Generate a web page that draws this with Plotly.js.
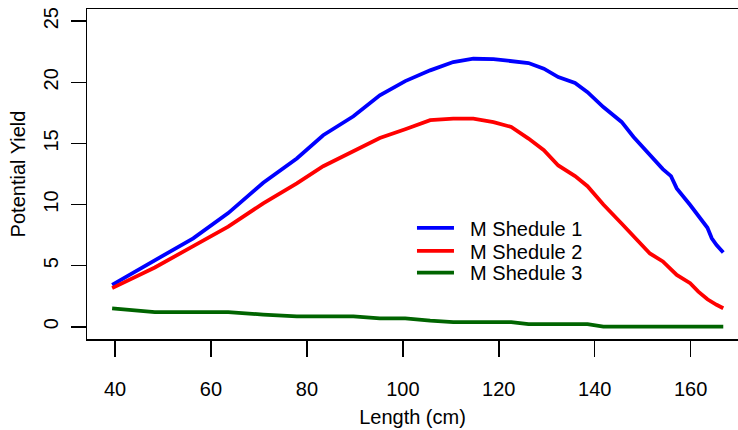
<!DOCTYPE html>
<html>
<head>
<meta charset="utf-8">
<script src="https://cdn.plot.ly/plotly-3.0.1.min.js"></script>
<style>html,body{margin:0;padding:0;overflow:hidden;background:#fff;}#chart{width:738px;height:430px;}</style>
</head>
<body>
<div id="chart"></div>
<script>
const lengthCm = [39.4, 48.3, 56.3, 63.6, 70.9, 77.9, 83.4, 89.7, 95.2, 100.5, 105.7, 110.5, 114.7, 118.9, 122.6, 126.2, 129.4, 132.4, 135.9, 138.5, 141.8, 145.6, 148.1, 151.5, 154.2, 155.9, 157.1, 159.9, 161.6, 163.5, 164.4, 165.4, 166.8];
const schedule1 = [3.43, 5.47, 7.24, 9.3, 11.78, 13.77, 15.67, 17.22, 18.94, 20.1, 20.98, 21.66, 21.93, 21.9, 21.75, 21.58, 21.12, 20.43, 19.95, 19.2, 17.98, 16.76, 15.53, 14.05, 12.9, 12.33, 11.32, 9.96, 9.1, 8.1, 7.24, 6.69, 6.07];
const schedule2 = [3.16, 4.85, 6.6, 8.19, 10.1, 11.73, 13.14, 14.4, 15.45, 16.16, 16.9, 17.03, 17.03, 16.75, 16.35, 15.4, 14.45, 13.2, 12.33, 11.5, 10.0, 8.45, 7.4, 6.0, 5.35, 4.7, 4.24, 3.57, 2.88, 2.25, 2.0, 1.8, 1.52];
const schedule3 = [1.5, 1.2, 1.2, 1.2, 1.0, 0.85, 0.85, 0.85, 0.68, 0.68, 0.5, 0.38, 0.38, 0.38, 0.38, 0.22, 0.22, 0.22, 0.22, 0.22, 0.02, 0.02, 0.02, 0.02, 0.02, 0.02, 0.02, 0.02, 0.02, 0.02, 0.02, 0.02, 0.02];
const seriesNames = ["M Shedule 1", "M Shedule 2", "M Shedule 3"];
const seriesColors = ["#0000ff", "#ff0000", "#006400"];
const xTicks = [40, 60, 80, 100, 120, 140, 160];
const yTicks = [0, 5, 10, 15, 20, 25];

const FONT = "Liberation Sans, Arial, Helvetica, sans-serif";
const FS = 20;
const ys = [schedule1, schedule2, schedule3];
const legendIds = ["legend", "legend2", "legend3"];
const legendY = [0.337, 0.267, 0.201];
const traces = ys.map((y, i) => ({
  x: lengthCm, y: y, type: "scatter", mode: "lines", name: "\u00a0\u00a0" + seriesNames[i],
  legend: legendIds[i],
  line: {color: seriesColors[i], width: 3.8}
}));

const layout = {
  width: 738, height: 430,
  margin: {l: 87, r: 0, t: 9, b: 91},
  paper_bgcolor: "#fff", plot_bgcolor: "#fff",
  font: {family: FONT, size: FS, color: "#000"},
  showlegend: true,
  xaxis: {
    range: [34.16, 169.87], tickvals: xTicks, ticktext: xTicks.map(String),
    showgrid: false, zeroline: false, showline: true, mirror: true, linecolor: "#000", linewidth: 1.5,
    ticks: "outside", ticklen: 16, tickwidth: 1.5, tickcolor: "#000", ticklabelstandoff: 15,
    title: {text: "Length (cm)", font: {family: FONT, size: FS, color: "#000"}, standoff: 11}
  },
  yaxis: {
    range: [-1, 26], tickvals: yTicks, ticktext: yTicks.map(String), tickangle: -90,
    showgrid: false, zeroline: false, showline: true, mirror: false, linecolor: "#000", linewidth: 1.5,
    ticks: "outside", ticklen: 15, tickwidth: 1.5, tickcolor: "#000", ticklabelstandoff: 5,
    title: {text: "Potential Yield", font: {family: FONT, size: FS, color: "#000"}, standoff: 8}
  }
};
legendIds.forEach((id, i) => {
  layout[id] = {x: 0.4992, y: legendY[i], xanchor: "left", yanchor: "middle", bgcolor: "rgba(0,0,0,0)",
    borderwidth: 0, font: {family: FONT, size: FS, color: "#000"}, itemwidth: 37};
});
Plotly.newPlot("chart", traces, layout, {displayModeBar: false, staticPlot: true});
</script>
</body>
</html>
